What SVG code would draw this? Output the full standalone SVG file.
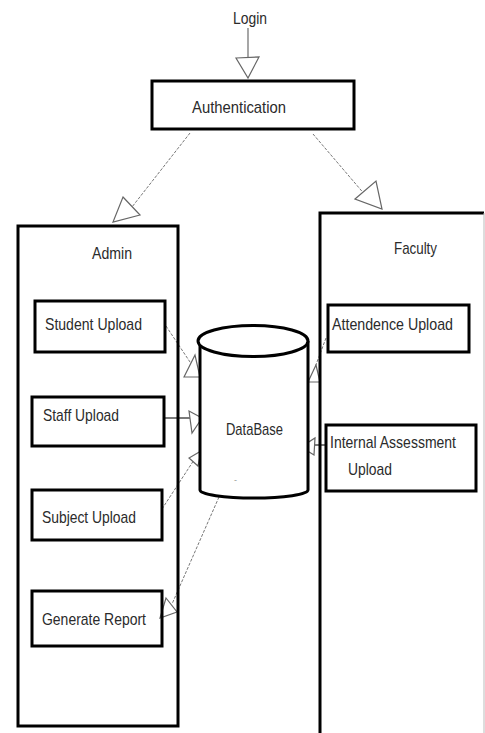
<svg xmlns="http://www.w3.org/2000/svg" width="485" height="733" viewBox="0 0 485 733">
<style>
.box{fill:none;stroke:#000;stroke-width:3}
.t{font-family:"Liberation Sans Narrow","Liberation Sans",Arial,sans-serif;font-size:17px;fill:#2b2b2b}
.ln{fill:none;stroke:#777;stroke-width:1;stroke-dasharray:3 1.5}
.hd{fill:#fff;stroke:#666;stroke-width:1.2}
</style>
<rect width="485" height="733" fill="#fff"/>
<g id="connectors">
<line x1="248" y1="28" x2="248" y2="62" stroke="#777" stroke-width="1.3"/>
<polygon class="hd" points="236,58 259,57 248,78"/>
<line class="ln" x1="190" y1="133" x2="132" y2="207"/>
<polygon class="hd" points="123,197 140,215 113,222"/>
<line class="ln" x1="313" y1="134" x2="372" y2="203"/>
<polygon class="hd" points="355,199 376,181 382,209"/>
<line class="ln" x1="166" y1="326" x2="192" y2="365"/>
<polygon class="hd" points="184,377 195,355 200,377"/>
<line x1="164" y1="418" x2="190" y2="418" stroke="#222" stroke-width="1.2"/>
<polygon class="hd" points="189,411 192,433 202,418"/>
<line class="ln" x1="162" y1="509" x2="194" y2="460"/>
<polygon class="hd" points="189,458 198,466 201,451"/>
<line class="ln" x1="219" y1="497" x2="172" y2="604"/>
<polygon class="hd" points="166,598 177,612 160,618"/>
<line class="ln" x1="326" y1="338" x2="314" y2="370"/>
<polygon class="hd" points="308,382 320,382 316,365"/>
<line x1="325" y1="445" x2="314" y2="445" stroke="#222" stroke-width="1.2"/>
<polygon class="hd" points="315,438 314,455 301,447"/>
</g>
<g id="login"><text class="t" x="233" y="24" textLength="34" lengthAdjust="spacingAndGlyphs">Login</text></g>
<g id="authentication">
<rect class="box" x="152" y="81" width="202" height="48"/>
<text class="t" x="192" y="113" textLength="94" lengthAdjust="spacingAndGlyphs">Authentication</text>
</g>
<g id="admin">
<rect class="box" x="18" y="226" width="160" height="500"/>
<text class="t" x="92" y="259" textLength="40" lengthAdjust="spacingAndGlyphs">Admin</text>
</g>
<g id="student-upload">
<rect class="box" x="35" y="301" width="130" height="51"/>
<text class="t" x="45" y="330" textLength="97" lengthAdjust="spacingAndGlyphs">Student Upload</text>
</g>
<g id="staff-upload">
<rect class="box" x="32" y="397" width="132" height="49"/>
<text class="t" x="43" y="421" textLength="76" lengthAdjust="spacingAndGlyphs">Staff Upload</text>
</g>
<g id="subject-upload">
<rect class="box" x="32" y="490" width="130" height="50"/>
<text class="t" x="42" y="523" textLength="94" lengthAdjust="spacingAndGlyphs">Subject Upload</text>
</g>
<g id="generate-report">
<rect class="box" x="32" y="591" width="130" height="55"/>
<text class="t" x="42" y="625" textLength="104" lengthAdjust="spacingAndGlyphs">Generate Report</text>
</g>
<g id="database">
<path d="M200,341 V490 A54,8 0 0 0 308,490 V341" fill="#fff" stroke="#000" stroke-width="3"/>
<ellipse cx="253" cy="341" rx="55" ry="15.5" fill="#fff" stroke="#000" stroke-width="3"/>
<text class="t" x="226" y="435" textLength="57" lengthAdjust="spacingAndGlyphs">DataBase</text>
<text class="t" x="234" y="483" style="font-size:9px;fill:#999">-</text>
</g>
<g id="faculty">
<path d="M320,733 V213 H484" fill="none" stroke="#000" stroke-width="3"/>
<line x1="484" y1="213" x2="484" y2="733" stroke="#bbb" stroke-width="1"/>
<text class="t" x="394" y="254" textLength="43" lengthAdjust="spacingAndGlyphs">Faculty</text>
</g>
<g id="attendence-upload">
<rect class="box" x="328" y="305" width="141" height="47"/>
<text class="t" x="332" y="330" textLength="121" lengthAdjust="spacingAndGlyphs">Attendence Upload</text>
</g>
<g id="internal-assessment-upload">
<rect class="box" x="326" y="425" width="150" height="66"/>
<text class="t" x="330" y="448" textLength="126" lengthAdjust="spacingAndGlyphs">Internal Assessment</text>
<text class="t" x="348" y="475" textLength="44" lengthAdjust="spacingAndGlyphs">Upload</text>
</g>
</svg>
